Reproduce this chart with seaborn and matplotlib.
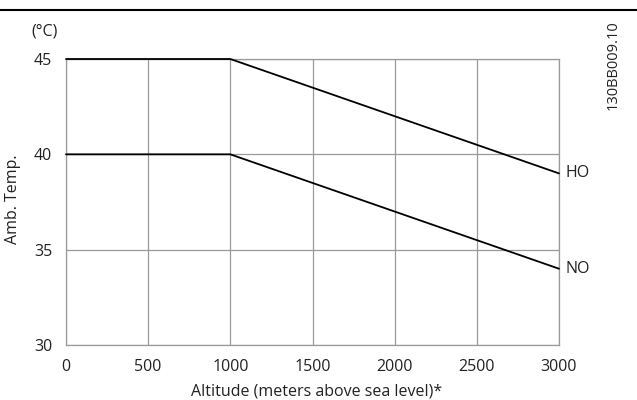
import matplotlib
matplotlib.use("Agg")
import matplotlib.pyplot as plt
import pandas as pd
import seaborn as sns

altitude = [0, 1000, 3000]
temp_ho = [45, 45, 39]
temp_no = [40, 40, 34]
series_names = ["HO", "NO"]
x_ticks = [0, 500, 1000, 1500, 2000, 2500, 3000]
y_ticks = [30, 35, 40, 45]

df = pd.DataFrame({
    "Altitude": altitude * 2,
    "Temp": temp_ho + temp_no,
    "Mode": [series_names[0]] * len(altitude) + [series_names[1]] * len(altitude),
})

sns.set_style("white")
plt.rcParams["font.family"] = ["Open Sans", "DejaVu Sans"]

txt = "#222222"
grey = "#9a9a9a"
fs = 11.5

fig = plt.figure(figsize=(6.37, 4.0), dpi=100)
ax = fig.add_axes([66 / 637, 55 / 400, 493 / 637, 286 / 400])

sns.lineplot(data=df, x="Altitude", y="Temp", units="Mode", estimator=None,
             color="black", linewidth=1.3, ax=ax, legend=False, zorder=5)
for ln in ax.lines:
    ln.set_clip_on(False)

ax.set_xlim(0, 3000)
ax.set_ylim(30, 45)
ax.set_xticks(x_ticks)
ax.set_yticks(y_ticks)
ax.grid(True, color=grey, linewidth=0.9)
for s in ax.spines.values():
    s.set_color(grey)
    s.set_linewidth(0.9)
ax.tick_params(axis="both", colors=grey, labelcolor=txt,
               length=6, width=0.9, labelsize=fs)
ax.tick_params(axis="y", pad=4)
ax.tick_params(axis="x", pad=4)

ax.set_xlabel("Altitude (meters above sea level)*", fontsize=fs, color=txt)
ax.xaxis.label.set_va("center")
ax.xaxis.set_label_coords((317 - 66) / 493, (345 - 392) / 286)
ax.set_ylabel("Amb. Temp.", fontsize=fs, color=txt)
ax.yaxis.label.set_va("center")
ax.yaxis.set_label_coords((13 - 66) / 493, (345 - 199) / 286)

for name, vals in zip(series_names, [temp_ho, temp_no]):
    ax.annotate(name, xy=(altitude[-1], vals[-1]), xytext=(5, 0),
                textcoords="offset points", va="center", ha="left",
                fontsize=fs, color=txt, annotation_clip=False)

fig.text(31 / 637, 1 - 32 / 400, "(°C)", fontsize=fs, color=txt, ha="left", va="center")
fig.text(613 / 637, 1 - 20 / 400, "130BB009.10", rotation=90, fontsize=10.5, color=txt,
         ha="center", va="top")
fig.add_artist(plt.Line2D([0, 1], [1 - 10 / 400, 1 - 10 / 400], color="black",
                          linewidth=1.5, transform=fig.transFigure))

fig.savefig("out.png", dpi=100)
